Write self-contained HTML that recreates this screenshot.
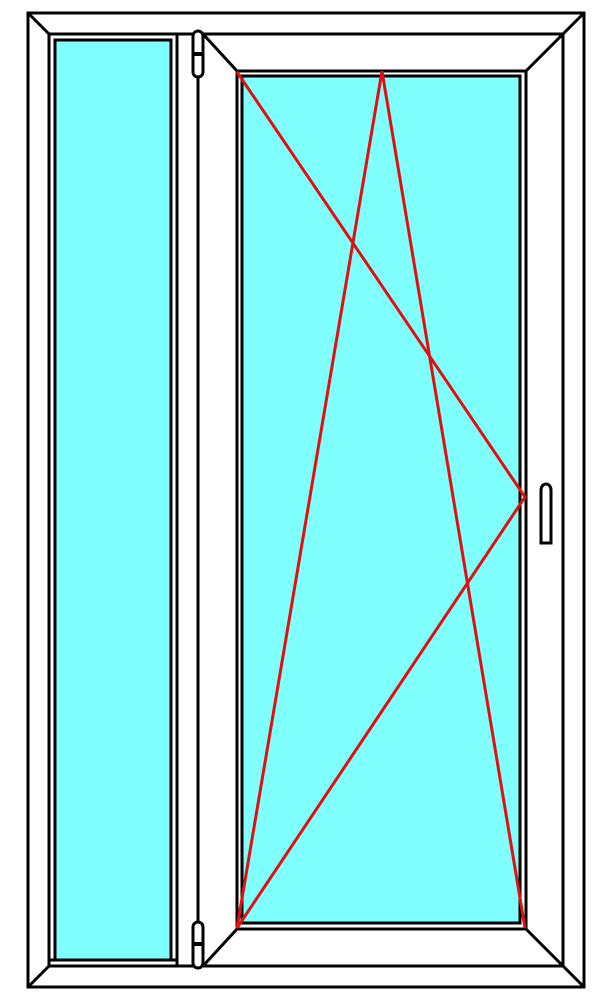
<!DOCTYPE html>
<html><head><meta charset="utf-8"><style>html,body{margin:0;padding:0;background:#fff}svg{display:block}</style></head>
<body>
<svg width="599" height="998" viewBox="0 0 599 998">
<g stroke="#000" stroke-width="3" fill="none">
  <rect x="28" y="13" width="556" height="974" fill="#fff"/>
  <rect x="49" y="34" width="514" height="932"/>
  <line x1="28" y1="13" x2="49" y2="34"/><line x1="584" y1="13" x2="563" y2="34"/>
  <line x1="28" y1="987" x2="49" y2="966"/><line x1="584" y1="987" x2="563" y2="966"/>
  <!-- left fixed pane -->
  <rect x="55" y="40" width="116" height="920" fill="#80ffff"/>
  <line x1="177" y1="34" x2="177" y2="966"/>
  <line x1="49" y1="960" x2="177" y2="960"/>
  <!-- mullion -->
  <line x1="198" y1="34" x2="198" y2="966"/>
  <!-- sash -->
  <line x1="203" y1="34" x2="237" y2="71"/><line x1="563" y1="34" x2="526" y2="71"/>
  <line x1="203" y1="966" x2="237" y2="929"/><line x1="563" y1="966" x2="526" y2="929"/>
  <rect x="237" y="71" width="289" height="858"/>
  <rect x="242" y="76" width="278" height="847" fill="#80ffff"/>
  <!-- hinges -->
  <rect x="193" y="31" width="10" height="46" rx="5" fill="#fff"/>
  <line x1="193" y1="54" x2="203" y2="54" stroke-width="4"/>
  <rect x="193" y="922" width="10" height="46" rx="5" fill="#fff"/>
  <line x1="193" y1="944" x2="203" y2="944" stroke-width="4"/>
  <!-- handle -->
  <path d="M541 543 V490 a5 6 0 0 1 10 0 V543 Z" fill="#fff"/>
</g>
<g stroke="#e01010" stroke-width="3" fill="none">
  <polyline points="237,72 525,497 237,928"/>
  <polyline points="237,928 382,71 525,928"/>
</g>
</svg>
</body></html>
